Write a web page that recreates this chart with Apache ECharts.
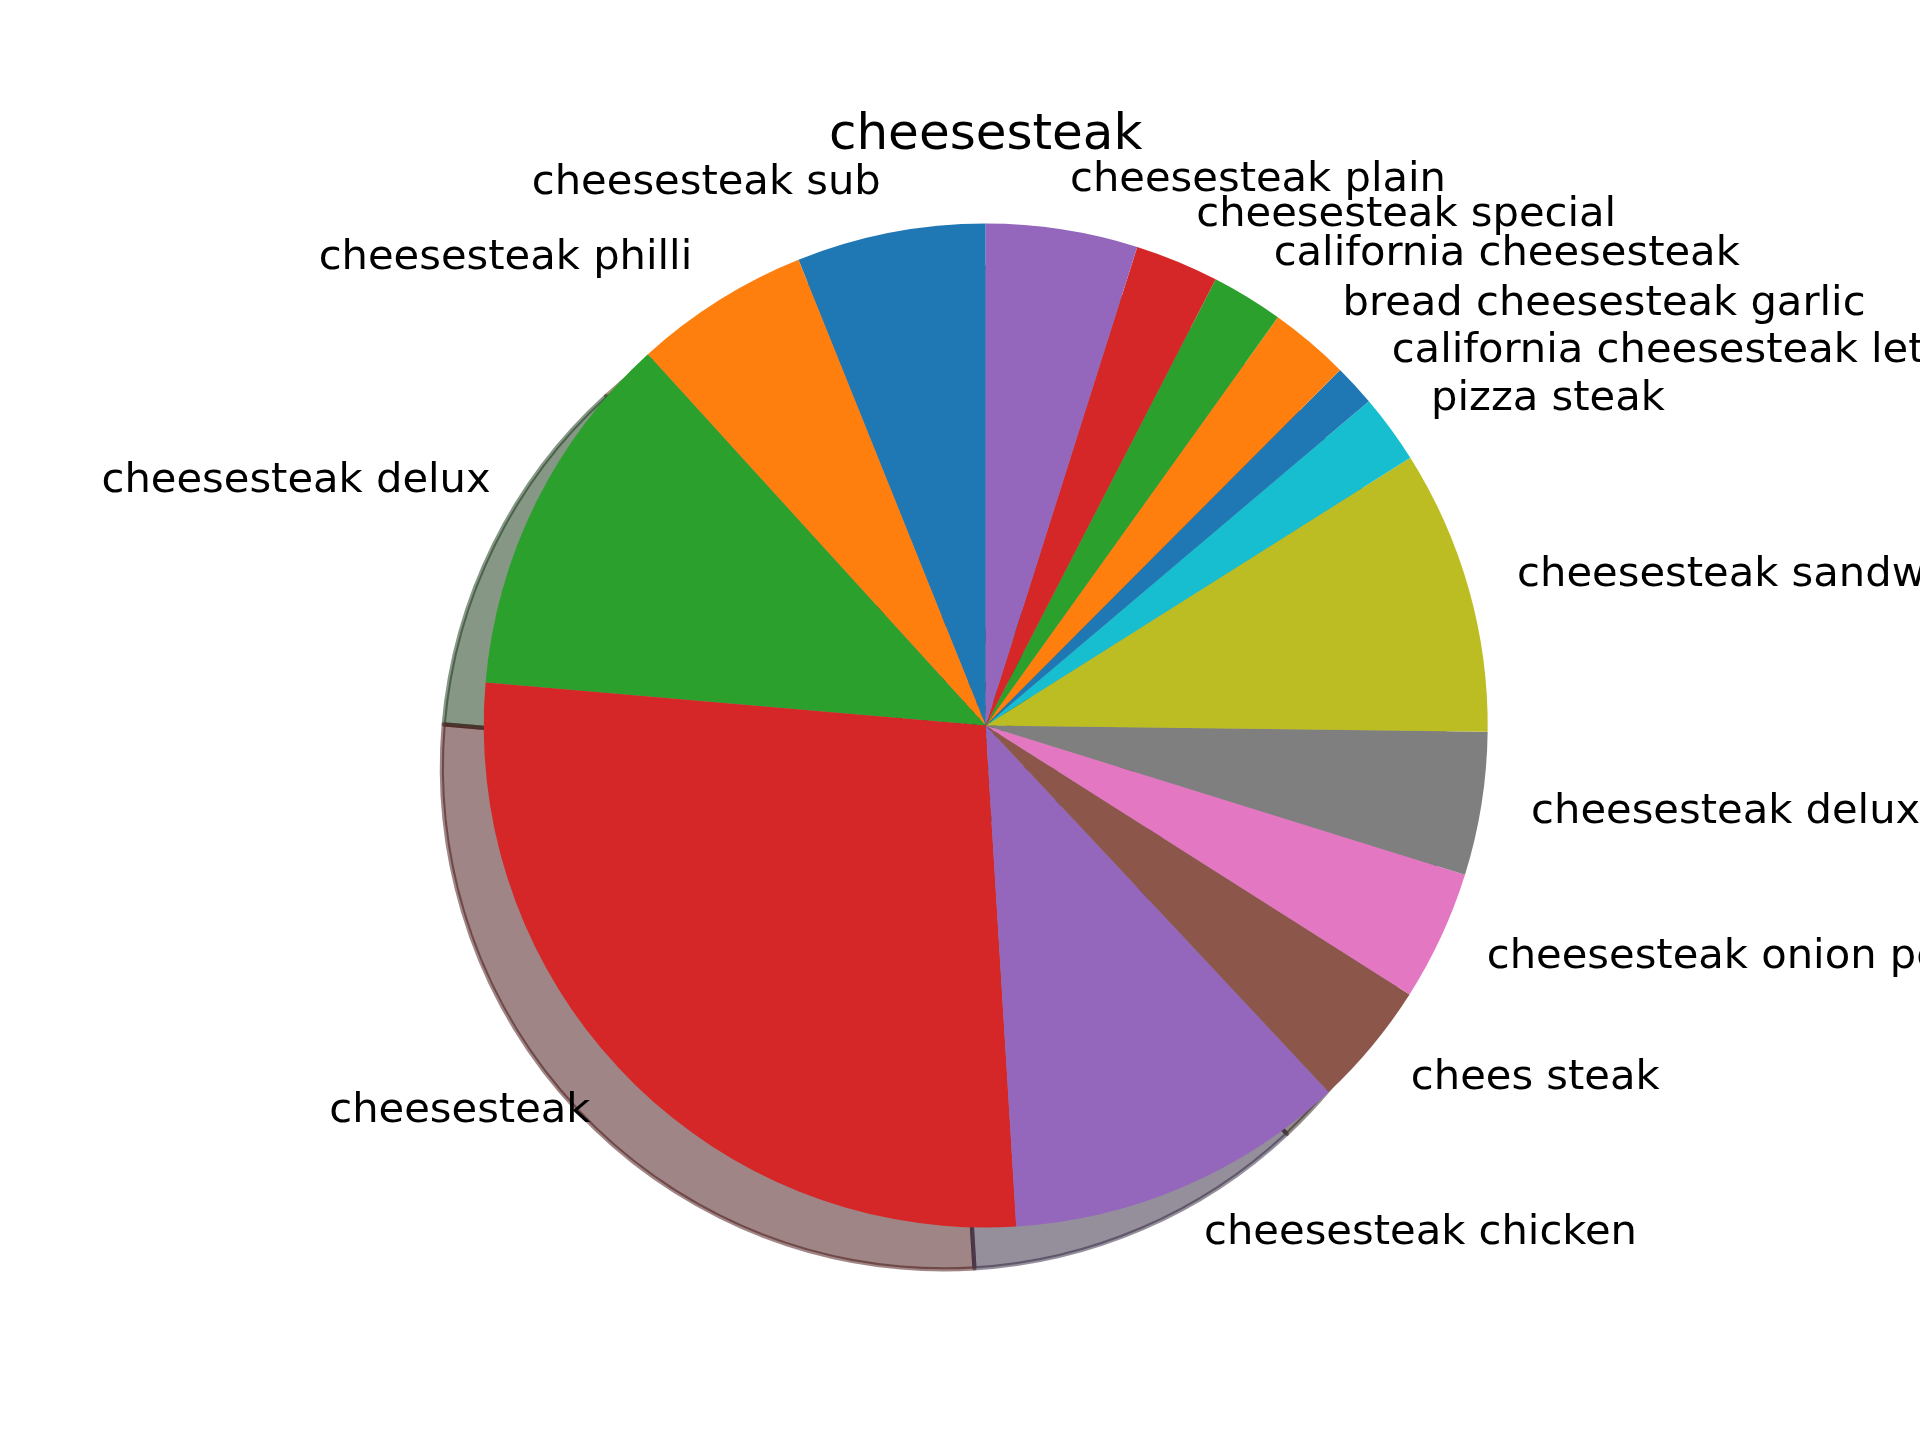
<!DOCTYPE html>
<html>
<head>
<meta charset="utf-8">
<script src="https://cdn.jsdelivr.net/npm/echarts@6/dist/echarts.min.js"></script>
<style>
html,body{margin:0;padding:0;background:#fff;}
#chart{width:1920px;height:1440px;}
</style>
</head>
<body>
<div id="chart"></div>
<script>
// Data (counterclockwise from 12 o'clock)
const categories = [
  'cheesesteak sub', 'cheesesteak philli', 'cheesesteak delux', 'cheesesteak',
  'cheesesteak chicken', 'chees steak', 'cheesesteak onion pepper', 'cheesesteak deluxe',
  'cheesesteak sandwich', 'pizza steak', 'california cheesesteak lettuce',
  'bread cheesesteak garlic', 'california cheesesteak', 'cheesesteak special', 'cheesesteak plain'
];
const values = [21.9, 20.4, 42.8, 98.4, 39.6, 14.5, 15.1, 16.6, 32.95, 8.0, 4.86, 9.3, 8.33, 9.7, 17.57];
const palette = ['#1f77b4','#ff7f0e','#2ca02c','#d62728','#9467bd','#8c564b','#e377c2','#7f7f7f','#bcbd22','#17becf'];
const titleText = 'cheesesteak';

// Layout
const CX = 985.7, CY = 725.5, R = 502;
const SHIFT = 0.02 * 300 / 72 * R;
const FONT = 'DejaVu Sans';

function hexToRgb(h){const n=parseInt(h.slice(1),16);return [(n>>16)&255,(n>>8)&255,n&255];}
function shadowCol(h){const c=hexToRgb(h).map(v=>Math.round(v*0.3));return `rgba(${c[0]},${c[1]},${c[2]},0.5)`;}

const mainData = categories.map((name,i)=>({
  name, value: values[i],
  itemStyle:{color: palette[i % palette.length]}
}));
const shadowData = categories.map((name,i)=>{
  const sc = shadowCol(palette[i % palette.length]);
  return {name, value: values[i], itemStyle:{color: sc, borderColor: sc, borderWidth: 4.17}};
});

const chart = echarts.init(document.getElementById('chart'), null, {renderer:'canvas'});
chart.setOption({
  animation:false,
  backgroundColor:'#ffffff',
  title:{
    text:titleText, left:CX, top:111, textAlign:'center', padding:0,
    textStyle:{fontFamily:FONT, fontSize:50, fontWeight:'normal', color:'#000'}
  },
  series:[
    {
      type:'pie', z:1, silent:true,
      center:[CX - SHIFT, CY + SHIFT], radius:[0, R],
      startAngle:90, clockwise:false, avoidLabelOverlap:false,
      label:{show:false}, labelLine:{show:false},
      emphasis:{disabled:true},
      data: shadowData
    },
    {
      type:'pie', z:2, silent:true,
      center:[CX, CY], radius:[0, R],
      startAngle:90, clockwise:false, avoidLabelOverlap:false,
      minShowLabelAngle:0,
      itemStyle:{borderWidth:0},
      label:{
        show:true, position:'outside', distanceToLabelLine:0, overflow:'none',
        fontFamily:FONT, fontSize:41.67, color:'#000'
      },
      labelLayout:{hideOverlap:false},
      labelLine:{show:false, length:0.1*R, length2:0},
      emphasis:{disabled:true},
      data: mainData
    }
  ]
});
</script>
</body>
</html>
